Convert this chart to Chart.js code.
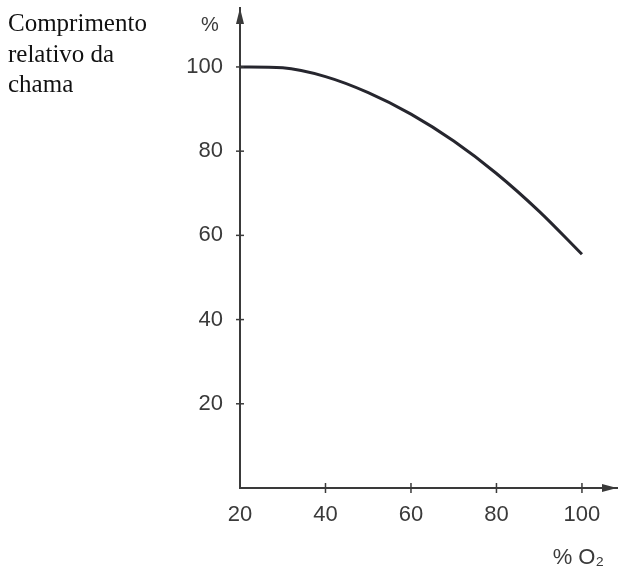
<!DOCTYPE html>
<html>
<head>
<meta charset="utf-8">
<script src="https://cdn.jsdelivr.net/npm/chart.js@4.4.1/dist/chart.umd.min.js"></script>
<style>
  html, body { margin: 0; padding: 0; background: #ffffff; }
  #wrap { position: relative; width: 620px; height: 569px; }
</style>
</head>
<body>
<div id="wrap"><canvas id="chart_flameLength"></canvas></div>
<script>
// oxygen content (% O2) and relative flame length (%)
var oxygenPct = [20, 30, 40, 50, 60, 70, 80, 90, 100];
var flameLength = [100, 99.8, 97.7, 93.9, 88.8, 82.4, 74.7, 65.7, 55.5];
var xTicks = [20, 40, 60, 80, 100];
var yTicks = [20, 40, 60, 80, 100];
var titleLines = ['Comprimento', 'relativo da', 'chama'];
var yUnit = '%';
var xUnit = '% O\u2082';

var axisColor = '#3a3a3a';
var textColor = '#3a3a3a';
var sansFont = "'Liberation Sans', Arial, sans-serif";

var chart_flameLength = new Chart(document.getElementById('chart_flameLength'), {
    type: 'line',
    data: {
        datasets: [
            {
                label: 'Comprimento relativo da chama',
                data: oxygenPct.map(function (x, i) { return { x: x, y: flameLength[i] }; }),
                borderColor: '#26262e',
                borderWidth: 3,
                pointRadius: 0,
                cubicInterpolationMode: 'monotone',
                fill: false
            }
        ]
    },
    options: {
        animation: false,
        responsive: true,
        maintainAspectRatio: false,
        layout: {
            padding: { left: 0, top: 8, right: 3, bottom: 0 }
        },
        plugins: {
            legend: { display: false },
            title: { display: false },
            tooltip: { enabled: false }
        },
        scales: {
            x: {
                type: 'linear',
                min: 20,
                max: 108.2,
                afterBuildTicks: function (scale) {
                    scale.ticks = xTicks.map(function (v) { return { value: v }; });
                },
                afterFit: function (scale) {
                    scale.height = 81;
                    scale.paddingLeft = 0;
                    scale.paddingRight = 0;
                },
                grid: { display: false, drawTicks: false },
                border: { display: true, color: axisColor, width: 2 },
                ticks: {
                    padding: 14,
                    maxRotation: 0,
                    color: textColor,
                    font: { family: sansFont, size: 22 }
                }
            },
            y: {
                type: 'linear',
                min: 0,
                max: 114,
                afterBuildTicks: function (scale) {
                    scale.ticks = yTicks.map(function (v) { return { value: v }; });
                },
                afterFit: function (scale) {
                    scale.width = 240;
                    scale.paddingTop = 0;
                    scale.paddingBottom = 0;
                },
                grid: { display: false, drawTicks: false },
                border: { display: true, color: axisColor, width: 2 },
                ticks: {
                    padding: 17,
                    color: textColor,
                    font: { family: sansFont, size: 22 }
                }
            }
        }
    },
    plugins: [{
        id: 'axisDecor',
        beforeDraw: function (chart) {
            var ctx = chart.ctx;
            ctx.save();
            ctx.fillStyle = 'white';
            ctx.fillRect(0, 0, chart.width, chart.height);
            ctx.restore();
        },
        afterDraw: function (chart) {
            var ctx = chart.ctx;
            var xs = chart.scales.x, ys = chart.scales.y;
            var area = chart.chartArea;
            var x0 = xs.getPixelForValue(xs.min);
            var y0 = ys.getPixelForValue(0);
            ctx.save();
            // tick marks crossing the axes
            ctx.strokeStyle = axisColor;
            ctx.lineWidth = 1.5;
            yTicks.forEach(function (v) {
                var y = ys.getPixelForValue(v);
                ctx.beginPath();
                ctx.moveTo(x0 - 4, y);
                ctx.lineTo(x0 + 4, y);
                ctx.stroke();
            });
            xTicks.forEach(function (v) {
                if (v === xs.min) return;
                var x = xs.getPixelForValue(v);
                ctx.beginPath();
                ctx.moveTo(x, y0 - 5);
                ctx.lineTo(x, y0 + 5);
                ctx.stroke();
            });
            // arrow heads
            ctx.fillStyle = axisColor;
            ctx.beginPath();
            ctx.moveTo(x0, area.top);
            ctx.lineTo(x0 - 4, area.top + 16);
            ctx.lineTo(x0 + 4, area.top + 16);
            ctx.closePath();
            ctx.fill();
            ctx.beginPath();
            ctx.moveTo(area.right, y0);
            ctx.lineTo(area.right - 15, y0 - 4);
            ctx.lineTo(area.right - 15, y0 + 4);
            ctx.closePath();
            ctx.fill();
            // axis unit labels
            ctx.fillStyle = textColor;
            ctx.font = '20px ' + sansFont;
            ctx.textAlign = 'center';
            ctx.textBaseline = 'middle';
            ctx.fillText(yUnit, x0 - 30, 25);
            ctx.font = '22px ' + sansFont;
            ctx.textAlign = 'right';
            ctx.textBaseline = 'alphabetic';
            ctx.fillText(xUnit, 604, 564);
            // title in the upper left
            ctx.fillStyle = '#111111';
            ctx.font = "25px 'Liberation Serif', 'Times New Roman', serif";
            ctx.textAlign = 'left';
            titleLines.forEach(function (line, i) {
                ctx.fillText(line, 8, 31 + i * 30.5);
            });
            ctx.restore();
        }
    }]
});
</script>
</body>
</html>
